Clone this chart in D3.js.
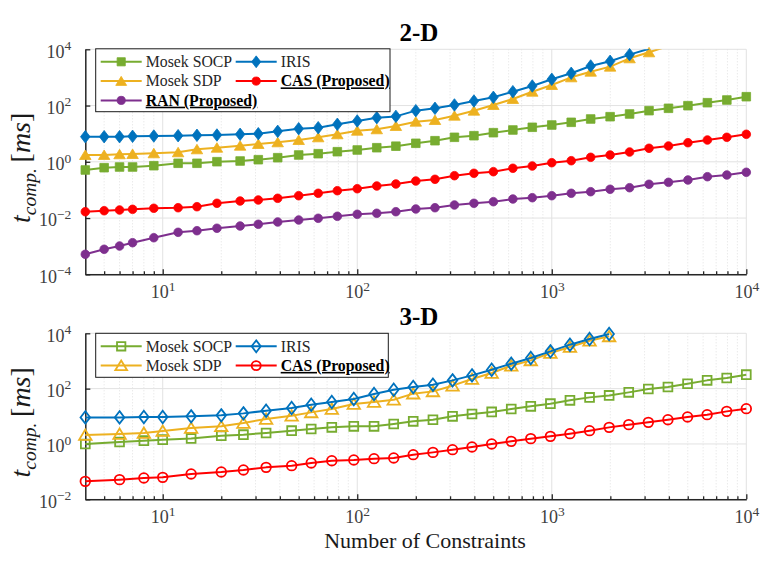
<!DOCTYPE html>
<html>
<head>
<meta charset="utf-8">
<script src="https://cdn.jsdelivr.net/npm/d3@7"></script>
<style>
  body { margin: 0; background: #fff; }
  svg { display: block; }
  text { font-family: "Liberation Serif", "Times New Roman", serif; }
</style>
</head>
<body>
<div id="chart"></div>
<script>
// ---- 2-D run: number of constraints and computation time [ms]
const x2d = [4, 5, 6, 7, 9, 12, 15, 19, 25, 31, 39, 50, 63, 79, 100, 126, 158, 200, 251, 316,
  398, 501, 631, 794, 1000, 1259, 1585, 1995, 2512, 3162, 3981, 5012, 6310, 7943, 10000]
const socp2d = [0.511, 0.617, 0.653, 0.653, 0.726, 0.885, 0.885, 1.009, 1.067, 1.189, 1.40, 1.746,
  1.941, 2.286, 2.63, 3.17, 3.589, 4.55, 5.623, 7.43, 8.472, 10.84, 13.52, 16.87, 20.32, 25.35,
  33.27, 40.18, 50.12, 65.77, 79.8, 98.86, 126.2, 157.4, 206.5]
const sdp2d = [1.746, 1.746, 1.849, 1.892, 2.004, 2.178, 2.78, 3.17, 3.733, 4.295, 4.932, 5.957,
  7.43, 9.506, 12.76, 14.32, 18.75, 26.73, 30.62, 43.65, 65.77, 104.7, 171, 311, 538, 1009, 1600,
  2415, 4786, 7816, 13180]
const iris2d = [7.8, 7.8, 7.8, 8.07, 8.26, 8.47, 8.75, 8.97, 9.51, 9.98, 12.1, 15.0, 16.3, 21.5,
  28.2, 37.0, 41.2, 65.8, 79.8, 105, 145, 196, 311, 495, 857, 1403, 2547, 3741, 6457, 10470]
const cas2d = [0.01683, 0.01824, 0.01932, 0.02046, 0.02223, 0.02333, 0.02535, 0.03342, 0.04036,
  0.04385, 0.05035, 0.06237, 0.07586, 0.09376, 0.1104, 0.138, 0.1626, 0.2075, 0.2382, 0.3206,
  0.3899, 0.4446, 0.5875, 0.7096, 0.929, 1.094, 1.445, 1.746, 2.228, 3.02, 3.648, 4.775, 5.957,
  7.43, 9.506]
const ran2d = [0.000514, 0.000774, 0.001014, 0.00133, 0.002, 0.00311, 0.00355, 0.00433, 0.00521,
  0.006, 0.00724, 0.00853, 0.0098, 0.01153, 0.01358, 0.01476, 0.01683, 0.021, 0.02333, 0.02911,
  0.03342, 0.0381, 0.04753, 0.05297, 0.06237, 0.07586, 0.0865, 0.1052, 0.1199, 0.1585, 0.1866,
  0.2254, 0.2951, 0.3396, 0.4236]

// ---- 3-D run
const x3d = [4, 6, 8, 10, 14, 20, 26, 34, 46, 58, 74, 96, 122, 154, 194, 245, 309, 389, 491, 619,
  780, 984, 1240, 1564, 1972, 2487, 3136, 3955, 4988, 6289, 7930, 10000]
const socp3d = [1.0, 1.18, 1.32, 1.43, 1.59, 2.0, 2.17, 2.5, 3.03, 3.48, 3.98, 4.33, 4.33, 5.28,
  6.56, 7.55, 9.95, 12.1, 14.4, 18.4, 22.9, 28.6, 37.7, 48.3, 57.0, 73.3, 97.3, 114.8, 151, 199,
  243, 320]
const sdp3d = [2.11, 2.3, 2.5, 2.95, 3.78, 4.33, 5.74, 8.02, 10.54, 13.87, 18.41, 27.9, 33.0, 39.9,
  65.8, 79.6, 127.9, 223.4, 368, 676, 1050, 1945, 3206, 5408, 7745]
const iris3d = [9.14, 9.14, 9.46, 9.46, 9.95, 10.81, 12.76, 15.96, 20.0, 26.3, 33.0, 42.3, 64.1,
  91.6, 114.8, 139, 199, 301, 484, 798, 1282, 2223, 3882, 6237, 9441]
const cas3d = [0.0445, 0.0513, 0.059, 0.0621, 0.0824, 0.0973, 0.1148, 0.1426, 0.1644, 0.2056,
  0.2489, 0.2642, 0.2944, 0.3119, 0.4102, 0.4966, 0.6223, 0.7798, 1.0, 1.242, 1.556, 1.884, 2.355,
  3.027, 3.981, 4.989, 6.039, 7.551, 9.462, 11.46, 15.07, 18.88]

const xTicks = [10, 100, 1000, 10000]
const yTicks2d = [1e-4, 1e-2, 1, 1e2, 1e4]
const yTicks3d = [1e-2, 1, 1e2, 1e4]

const COLORS = {
  socp: '#77AC30', sdp: '#EDB120', iris: '#0072BD', cas: '#FF0000', ran: '#7E2F8E'
}

const svg = d3.select('#chart').append('svg')
  .attr('width', 771)
  .attr('height', 582)

// marker outline centred on (0,0)
function markerPath(type, s) {
  if (type === 'square') return `M${-s},${-s}H${s}V${s}H${-s}Z`
  if (type === 'diamond') return `M0,${-s * 1.3}L${s},0L0,${s * 1.3}L${-s},0Z`
  if (type === 'triangle') return `M0,${-s}L${s * 1.15},${s * 0.9}L${-s * 1.15},${s * 0.9}Z`
  const p = d3.path()
  p.arc(0, 0, s, 0, 2 * Math.PI)
  return p.toString()
}

class timingChart {
  constructor(_svg, _config) {
    this.svg = _svg
    this.config = _config
    this.initVis()
  }

  initVis() {
    const vis = this
    const c = vis.config

    vis.LEFT = 85.3
    vis.RIGHT = 746.3

    vis.g = vis.svg.append('g')

    vis.x = d3.scaleLog().domain([4, 1e4]).range([vis.LEFT, vis.RIGHT])
    vis.y = d3.scaleLog().domain(c.yDomain).range([c.bottom, c.top])

    // lines are cut at the top of the axes, markers at the edges are kept whole
    vis.g.append('clipPath').attr('id', 'clip' + c.id)
      .append('rect')
      .attr('x', vis.LEFT - 10).attr('y', c.top)
      .attr('width', vis.RIGHT - vis.LEFT + 20).attr('height', c.bottom - c.top)

    vis.drawGrid()
    vis.drawAxes()
    vis.wrangleData()
  }

  drawGrid() {
    const vis = this
    const c = vis.config
    const grid = vis.g.append('g')

    const minor = []
    for (let d = 1; d <= 1000; d *= 10) {
      for (let k = 2; k <= 9; k++) if (k * d > 4) minor.push(k * d)
    }
    grid.selectAll('.minor').data(minor).enter().append('line')
      .attr('x1', d => vis.x(d)).attr('x2', d => vis.x(d))
      .attr('y1', c.top).attr('y2', c.bottom)
      .attr('stroke', '#d9d9d9').attr('stroke-width', 0.8)
      .attr('stroke-dasharray', '1,2')

    grid.selectAll('.xmajor').data(xTicks).enter().append('line')
      .attr('x1', d => vis.x(d)).attr('x2', d => vis.x(d))
      .attr('y1', c.top).attr('y2', c.bottom)
      .attr('stroke', '#e2e2e2').attr('stroke-width', 1)

    grid.selectAll('.ymajor').data(c.yTicks).enter().append('line')
      .attr('x1', vis.LEFT).attr('x2', vis.RIGHT)
      .attr('y1', d => vis.y(d)).attr('y2', d => vis.y(d))
      .attr('stroke', '#e2e2e2').attr('stroke-width', 1)
  }

  drawAxes() {
    const vis = this
    const c = vis.config

    const supLabel = function (d) {
      const t = d3.select(this)
      const exp = Math.round(Math.log10(d))
      t.text('')
      t.append('tspan').text('10')
      t.append('tspan').attr('dy', '-0.55em').attr('font-size', '13.5px')
        .text(exp < 0 ? '\u2212' + (-exp) : exp)
    }

    const minor = []
    for (let d = 1; d <= 1000; d *= 10) {
      for (let k = 2; k <= 9; k++) if (k * d > 4) minor.push(k * d)
    }

    const xMinor = vis.g.append('g')
      .attr('transform', `translate(0,${c.bottom})`)
      .call(d3.axisBottom(vis.x).tickValues(minor).tickSize(-3).tickSizeOuter(0).tickFormat(''))
    xMinor.select('.domain').remove()
    xMinor.selectAll('line').attr('stroke', '#262626').attr('stroke-width', 1.3)

    const xAxis = vis.g.append('g')
      .attr('transform', `translate(0,${c.bottom})`)
      .call(d3.axisBottom(vis.x).tickValues(xTicks).tickSize(-5).tickSizeOuter(0).tickPadding(11))
    xAxis.attr('font-family', null).attr('font-size', '18px')
    xAxis.selectAll('.tick text').attr('fill', '#404040').each(supLabel)

    const yAxis = vis.g.append('g')
      .attr('transform', `translate(${vis.LEFT},0)`)
      .call(d3.axisLeft(vis.y).tickValues(c.yTicks).tickSize(-5).tickSizeOuter(0).tickPadding(14))
    yAxis.attr('font-family', null).attr('font-size', '18px')
    yAxis.selectAll('.tick text').attr('fill', '#404040').attr('dy', '0.43em').each(supLabel)

    for (const ax of [xAxis, yAxis]) {
      ax.select('.domain').attr('stroke', '#262626').attr('stroke-width', 1.5)
      ax.selectAll('.tick line').attr('stroke', '#262626').attr('stroke-width', 1.3)
    }

    // title
    vis.g.append('text')
      .attr('x', 419).attr('y', c.top - 8.5)
      .attr('text-anchor', 'middle')
      .attr('font-size', '25px').attr('font-weight', 'bold')
      .text(c.title)

    // y label: t_comp. [ms]
    const yl = vis.g.append('text')
      .attr('transform', `translate(30,${(c.top + c.bottom) / 2 + 6}) rotate(-90)`)
      .attr('text-anchor', 'middle')
      .attr('font-size', '28px').attr('fill', '#1a1a1a')
    yl.append('tspan').attr('font-style', 'italic').text('t')
    yl.append('tspan').attr('font-style', 'italic').attr('font-size', '19.5px')
      .attr('dy', '0.3em').text('comp.')
    yl.append('tspan').attr('dy', '-0.21em').text('\u2009[')
    yl.append('tspan').attr('font-style', 'italic').text('ms')
    yl.append('tspan').text(']')
  }

  wrangleData() {
    const vis = this
    const [lo, hi] = vis.config.yDomain
    vis.series = vis.config.series.map(s => ({
      ...s,
      points: s.values.map((v, i) => ({ x: s.xs[i], y: v }))
    }))
    vis.series.forEach(s => {
      s.shown = s.points.filter(p => p.y >= lo * 0.999 && p.y <= hi * 1.001)
    })
    vis.updateVis()
  }

  updateVis() {
    const vis = this
    const c = vis.config

    const line = d3.line()
      .x(d => vis.x(d.x))
      .y(d => vis.y(d.y))

    const drawOrder = c.drawOrder.map(k => vis.series.find(s => s.key === k))

    drawOrder.forEach(s => {
      const sg = vis.g.append('g')
      sg.append('path')
        .datum(s.points)
        .attr('clip-path', `url(#clip${c.id})`)
        .attr('d', line)
        .attr('fill', 'none')
        .attr('stroke', s.color)
        .attr('stroke-width', 2)
        .attr('stroke-linejoin', 'round')

      sg.selectAll('.mk')
        .data(s.shown)
        .enter()
        .append('path')
        .attr('transform', d => `translate(${vis.x(d.x)},${vis.y(d.y)})`)
        .attr('d', markerPath(s.marker, c.markerSize[s.marker]))
        .attr('fill', c.filled ? s.color : 'none')
        .attr('stroke', s.color)
        .attr('stroke-width', c.filled ? 0.8 : 1.8)
    })

    vis.drawLegend()
  }

  drawLegend() {
    const vis = this
    const c = vis.config
    const L = c.legend

    const lg = vis.g.append('g')
    lg.append('rect')
      .attr('x', L.x).attr('y', L.y)
      .attr('width', L.w).attr('height', L.h)
      .attr('fill', '#fff').attr('stroke', '#1a1a1a').attr('stroke-width', 1)

    vis.series.forEach((s, i) => {
      const col = i % 2
      const row = Math.floor(i / 2)
      const x0 = L.x + 5 + col * 135
      const yc = L.y + 13 + row * 19.3
      const it = lg.append('g')
      it.append('line')
        .attr('x1', x0).attr('x2', x0 + 41)
        .attr('y1', yc).attr('y2', yc)
        .attr('stroke', s.color).attr('stroke-width', 2)
      it.append('path')
        .attr('transform', `translate(${x0 + 20.5},${yc})`)
        .attr('d', markerPath(s.marker, c.markerSize[s.marker] * 0.95))
        .attr('fill', c.filled ? s.color : 'none')
        .attr('stroke', s.color)
        .attr('stroke-width', c.filled ? 0.8 : 1.8)
      it.append('text')
        .attr('x', x0 + 45).attr('y', yc + 5.3)
        .attr('font-size', '15.8px')
        .attr('fill', s.bold ? '#000' : '#262626')
        .attr('font-weight', s.bold ? 'bold' : null)
        .attr('text-decoration', s.bold ? 'underline' : null)
        .text(s.name)
    })
  }
}

new timingChart(svg, {
  id: 'a', title: '2-D', top: 49.3, bottom: 274.3,
  yDomain: [1e-4, 1e4], yTicks: yTicks2d, filled: true,
  markerSize: { square: 4.3, diamond: 4.8, triangle: 5, circle: 4.3 },
  legend: { x: 95.7, y: 48.8, w: 294.3, h: 62.9 },
  drawOrder: ['socp', 'sdp', 'iris', 'cas', 'ran'],
  series: [
    { key: 'socp', name: 'Mosek SOCP', xs: x2d, values: socp2d, color: COLORS.socp, marker: 'square' },
    { key: 'iris', name: 'IRIS', xs: x2d, values: iris2d, color: COLORS.iris, marker: 'diamond' },
    { key: 'sdp', name: 'Mosek SDP', xs: x2d, values: sdp2d, color: COLORS.sdp, marker: 'triangle' },
    { key: 'cas', name: 'CAS (Proposed)', xs: x2d, values: cas2d, color: COLORS.cas, marker: 'circle', bold: true },
    { key: 'ran', name: 'RAN (Proposed)', xs: x2d, values: ran2d, color: COLORS.ran, marker: 'circle', bold: true }
  ]
})

new timingChart(svg, {
  id: 'b', title: '3-D', top: 333.3, bottom: 499.3,
  yDomain: [1e-2, 1e4], yTicks: yTicks3d, filled: false,
  markerSize: { square: 4.4, diamond: 4.8, triangle: 5.4, circle: 4.8 },
  legend: { x: 95.7, y: 333.3, w: 292.6, h: 44 },
  drawOrder: ['socp', 'sdp', 'iris', 'cas'],
  series: [
    { key: 'socp', name: 'Mosek SOCP', xs: x3d, values: socp3d, color: COLORS.socp, marker: 'square' },
    { key: 'iris', name: 'IRIS', xs: x3d, values: iris3d, color: COLORS.iris, marker: 'diamond' },
    { key: 'sdp', name: 'Mosek SDP', xs: x3d, values: sdp3d, color: COLORS.sdp, marker: 'triangle' },
    { key: 'cas', name: 'CAS (Proposed)', xs: x3d, values: cas3d, color: COLORS.cas, marker: 'circle', bold: true }
  ]
})

svg.append('text')
  .attr('x', 425).attr('y', 548)
  .attr('text-anchor', 'middle')
  .attr('font-size', '22px').attr('fill', '#1a1a1a')
  .text('Number of Constraints')
</script>
</body>
</html>
